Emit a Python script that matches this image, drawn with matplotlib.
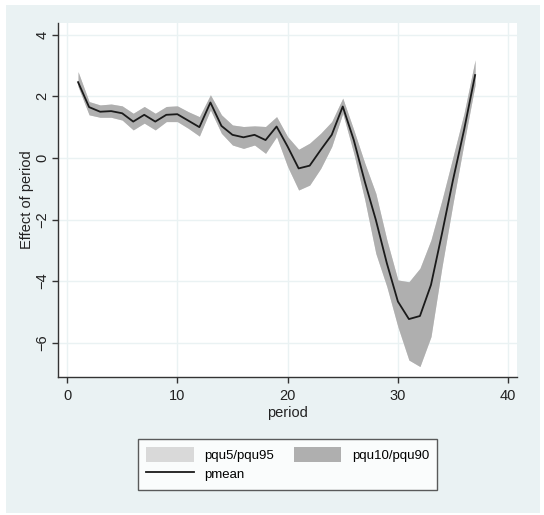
import matplotlib
matplotlib.use("Agg")
import matplotlib.pyplot as plt
from matplotlib.patches import Rectangle, Patch
from matplotlib.lines import Line2D

period = list(range(1, 38))
pmean = [2.46, 1.65, 1.50, 1.52, 1.45, 1.18, 1.40, 1.18, 1.40, 1.42,
         1.21, 1.00, 1.80, 1.04, 0.75, 0.67, 0.75, 0.58, 1.02, 0.37,
         -0.34, -0.25, 0.26, 0.75, 1.67, 0.58, -0.77, -2.01, -3.42, -4.66,
         -5.23, -5.13, -4.12, -2.45, -0.71, 0.91, 2.69]
pqu90 = [2.80, 1.83, 1.72, 1.75, 1.69, 1.45, 1.67, 1.45, 1.67, 1.69,
         1.50, 1.34, 2.05, 1.40, 1.07, 1.02, 1.04, 1.02, 1.34, 0.69,
         0.28, 0.48, 0.80, 1.18, 1.94, 0.91, -0.17, -1.15, -2.66, -3.96,
         -4.02, -3.58, -2.66, -1.36, 0.04, 1.45, 3.18]
pqu10 = [2.32, 1.40, 1.32, 1.32, 1.23, 0.91, 1.13, 0.91, 1.18, 1.18,
         0.96, 0.71, 1.56, 0.80, 0.42, 0.31, 0.42, 0.15, 0.69, -0.28,
         -1.04, -0.88, -0.34, 0.37, 1.45, 0.15, -1.36, -3.10, -4.18, -5.48,
         -6.56, -6.77, -5.80, -3.53, -1.47, 0.48, 2.37]
pqu95 = pqu90
pqu5 = pqu10

xticks = [0, 10, 20, 30, 40]
yticks = [-6, -4, -2, 0, 2, 4]

plt.rcParams['font.family'] = ['Liberation Sans', 'DejaVu Sans']

W, H = 544, 515
fig = plt.figure(figsize=(W / 100, H / 100), dpi=100, facecolor='white')
bg = '#EAF2F3'
fig.patches.append(Rectangle((6 / W, 2 / H), (540 - 6) / W, (510 - 2) / H,
                             transform=fig.transFigure, facecolor=bg,
                             edgecolor='none', zorder=-10))

ax = fig.add_axes([58 / W, 1 - 377 / H, (517 - 58) / W, (377 - 23) / H])
ax.set_facecolor('white')
ax.fill_between(period, pqu5, pqu95, color='#D9D9D9', linewidth=0, zorder=2)
ax.fill_between(period, pqu10, pqu90, color='#AFAFAF', linewidth=0, zorder=3)
ax.plot(period, pmean, color='#1a1a1a', linewidth=1.3, zorder=4)

ax.set_xlim(-0.82, 40.8)
ax.set_ylim(-7.11, 4.38)
ax.set_xticks(xticks)
ax.set_yticks(yticks)
ax.set_yticklabels(['\u22126', '\u22124', '\u22122', '0', '2', '4'],
                   rotation=90, va='center')
ax.grid(True, color=bg, linewidth=1.0, zorder=0)
ax.set_axisbelow(True)
for s in ['top', 'right']:
    ax.spines[s].set_visible(False)
for s in ['left', 'bottom']:
    ax.spines[s].set_color('#333333')
    ax.spines[s].set_linewidth(1.0)
ax.tick_params(direction='out', length=4, width=1, color='#333333',
               labelsize=10.5, labelcolor='#222222', pad=5)
ax.tick_params(axis='y', pad=2)
ax.set_xlabel('period', fontsize=10.5, color='#222222', labelpad=2)
ax.set_ylabel('Effect of period', fontsize=10.5, color='#222222', labelpad=1)

handles = [Patch(facecolor='#D9D9D9', edgecolor='none'),
           Line2D([], [], color='#1a1a1a', linewidth=1.3),
           Patch(facecolor='#AFAFAF', edgecolor='none')]
labels = ['pqu5/pqu95', 'pmean', 'pqu10/pqu90']
leg = fig.legend(handles, labels, ncol=2, loc='upper center',
                 bbox_to_anchor=(287.5 / W, 1 - 432 / H), fontsize=9.5,
                 frameon=True, fancybox=False, edgecolor='#333333',
                 handlelength=3.6, handleheight=1.4, columnspacing=1.5,
                 borderpad=0.6, labelspacing=0.35, handletextpad=0.8)
leg.get_frame().set_linewidth(1.0)

fig.savefig('out.png', dpi=100, facecolor='white')
